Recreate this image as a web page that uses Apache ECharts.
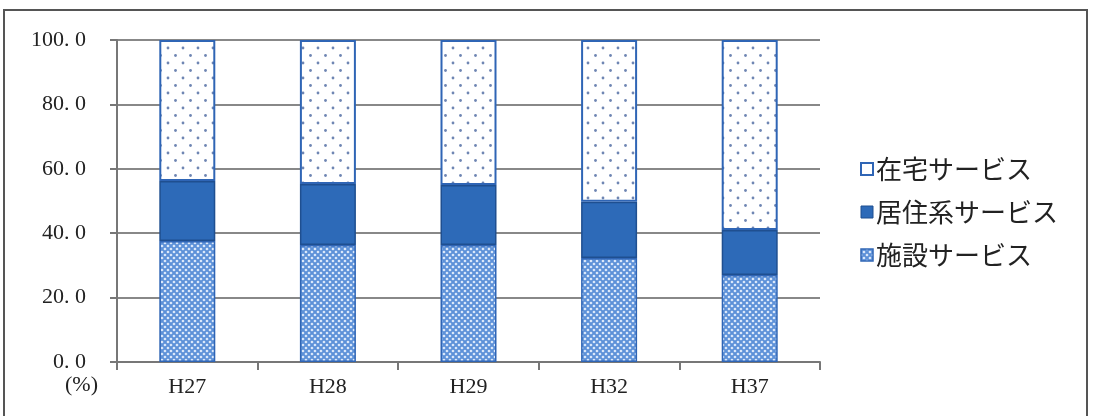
<!DOCTYPE html>
<html><head><meta charset="utf-8">
<script src="https://cdn.jsdelivr.net/npm/echarts@6/dist/echarts.min.js"></script>
<style>html,body{margin:0;padding:0;background:#fff}#c{width:1093px;height:416px}</style>
</head><body><div id="c"></div>
<script>
const categories = ['H27','H28','H29','H32','H37'];
const facility = [37.6, 36.3, 36.3, 32.3, 27.0];      // 施設サービス
const residential = [18.6, 19.0, 18.7, 17.5, 14.0];   // 居住系サービス
const home = [43.8, 44.7, 45.0, 50.2, 59.0];          // 在宅サービス
const yTicks = ['0.0','20.0','40.0','60.0','80.0','100.0'];

function dotPattern(){
  const c=document.createElement('canvas');c.width=15;c.height=15;
  const g=c.getContext('2d');g.fillStyle='#ffffff';g.fillRect(0,0,15,15);
  g.fillStyle='#6f86b3';
  [[3,3],[10.5,10.5]].forEach(p=>{g.beginPath();g.arc(p[0],p[1],1.4,0,Math.PI*2);g.fill();});
  return c;
}
function hatchPattern(){
  const c=document.createElement('canvas');c.width=6;c.height=6;
  const g=c.getContext('2d');g.fillStyle='#5d91d8';g.fillRect(0,0,6,6);
  g.fillStyle='#e8f1fd';
  [[0,0],[6,0],[0,6],[6,6],[3,3]].forEach(p=>{g.beginPath();g.moveTo(p[0],p[1]-1.6);g.lineTo(p[0]+1.6,p[1]);g.lineTo(p[0],p[1]+1.6);g.lineTo(p[0]-1.6,p[1]);g.closePath();g.fill();});
  return c;
}
const border = '#2f65b5';
const chart = echarts.init(document.getElementById('c'), null, {renderer:'canvas'});
const serif = '"Liberation Serif","DejaVu Serif",serif';
const jp = '"Noto Sans CJK JP","Noto Sans",sans-serif';
chart.setOption({
  animation:false,
  backgroundColor:'#fff',
  grid:{left:117,right:273,top:40,bottom:54,containLabel:false},
  legend:{
    orient:'vertical', left:855, top:151, itemGap:17, itemWidth:12, itemHeight:12,
    icon:'rect',
    textStyle:{fontFamily:jp,fontSize:26,color:'#222',padding:[0,0,0,-2]},
    data:[
      {name:'在宅サービス',itemStyle:{color:'#fff',borderColor:border,borderWidth:2}},
      {name:'居住系サービス',itemStyle:{color:'#2d6ab8',borderColor:'#1f4f90',borderWidth:1}},
      {name:'施設サービス',itemStyle:{color:{image:hatchPattern(),repeat:'repeat'},borderColor:border,borderWidth:1.5}}
    ]
  },
  xAxis:{
    type:'category', data:categories,
    axisLine:{lineStyle:{color:'#777',width:2}},
    axisTick:{show:true,length:8,lineStyle:{color:'#777',width:2}},
    axisLabel:{fontFamily:serif,fontSize:22,color:'#222',margin:14}
  },
  yAxis:{
    type:'value', min:0, max:100, interval:20,
    axisLine:{show:true,lineStyle:{color:'#777',width:2}},
    axisTick:{show:true,length:7,lineStyle:{color:'#777',width:2}},
    splitLine:{lineStyle:{color:'#888',width:2}},
    axisLabel:{fontFamily:serif,fontSize:22,color:'#222',margin:31,
      formatter:(v)=>yTicks[Math.round(v/20)].replace('.','. ')}
  },
  graphic:[
    {type:'rect',shape:{x:4,y:10,width:1083,height:420},style:{fill:'none',stroke:'#555',lineWidth:2},silent:true},
    {type:'text',left:65,top:374,style:{text:'(%)',font:'22px '+serif,fill:'#222'}}
  ],
  series:[
    {name:'施設サービス',type:'bar',stack:'a',barWidth:56,data:facility,
      itemStyle:{color:{image:hatchPattern(),repeat:'repeat'},borderColor:border,borderWidth:1.5}},
    {name:'居住系サービス',type:'bar',stack:'a',barWidth:56,data:residential,
      itemStyle:{color:'#2d6ab8',borderColor:'#1f4f90',borderWidth:1.5}},
    {name:'在宅サービス',type:'bar',stack:'a',barWidth:56,data:home,
      itemStyle:{color:{image:dotPattern(),repeat:'repeat'},borderColor:border,borderWidth:2}}
  ]
});
</script></body></html>
